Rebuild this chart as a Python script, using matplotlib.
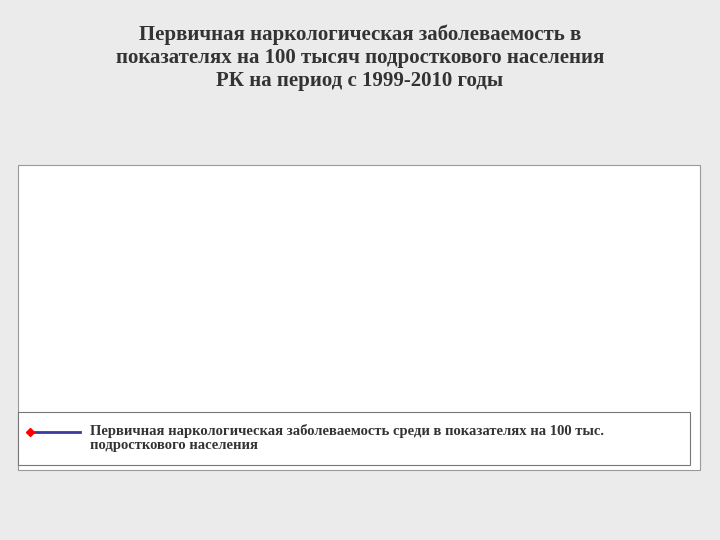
import matplotlib.pyplot as plt
from matplotlib.patches import Rectangle
from matplotlib.lines import Line2D

years = ['1999', '2000', '2001', '2002', '2003', '2004', '2005', '2006', '2007', '2008', '2009', '2010']
values = [387.1, 585.1, 605.8, 800.9, 612.9, 600.6, 822.8, 509.7, 476.3, 473.6, 564.8, 437.3]
labels = ['387,1', '585,1', '605,8', '800,9', '612,9', '600,6', '822,8', '509,7', '476,3', '473,6', '564,8', '437,3']
ytick_labels = ['0', '100', '200', '200', '300', '400', '500', '600', '700', '800', '900']

fig = plt.figure(figsize=(7.2, 5.4), dpi=100)
fig.patch.set_facecolor('#ebebeb')

# white chart box
fig.patches.append(Rectangle((18 / 720, 1 - 470 / 540), 682 / 720, 305 / 540,
                             transform=fig.transFigure, facecolor='white',
                             edgecolor='#999999', lw=0.8))

fig.text(0.5, 0.955, 'Первичная наркологическая заболеваемость в\n'
         'показателях на 100 тысяч подросткового населения\n'
         'РК на период с 1999-2010 годы',
         ha='center', va='top', fontsize=15, fontweight='bold',
         family='Liberation Serif', color='#333333', linespacing=1.2)

ax = fig.add_axes([85 / 720, 1 - 343 / 540, 595 / 720, 153 / 540])
x = range(len(years))
ax.plot(x, values, color='#3a3aa0', lw=2.2, marker='D', ms=4,
        markerfacecolor='red', markeredgecolor='red')
ax.set_xlim(-0.5, 11.5)
ax.set_ylim(0, 900)
ax.set_yticks([i * 90 for i in range(len(ytick_labels))])
ax.set_yticklabels(ytick_labels, fontsize=12, fontweight='bold')
ax.set_xticks(list(x))
ax.set_xticklabels(years, rotation=45, fontsize=13, fontweight='bold', ha='center')
ax.tick_params(axis='both', length=0, pad=3)
ax.tick_params(axis='x', pad=8)
for s in ['top', 'right']:
    ax.spines[s].set_visible(False)
for s in ['left', 'bottom']:
    ax.spines[s].set_color('#bbbbbb')

for i, (v, t) in enumerate(zip(values, labels)):
    ax.text(i, v + 25, t, ha='center', va='bottom', fontsize=12, fontweight='bold')

fig.patches.append(Rectangle((18 / 720, 1 - 465 / 540), 672 / 720, 53 / 540,
                             transform=fig.transFigure, facecolor='white',
                             edgecolor='#777777', lw=0.8))
fig.lines.append(Line2D([30 / 720, 80 / 720], [1 - 432 / 540] * 2, transform=fig.transFigure,
                        color='#3a3aa0', lw=2, marker='D', ms=4,
                        markerfacecolor='red', markeredgecolor='red', markevery=[0]))
fig.text(90 / 720, 1 - 438 / 540,
         'Первичная наркологическая заболеваемость среди в показателях на 100 тыс.\n'
         'подросткового населения', ha='left', va='center', fontsize=10.5,
         fontweight='bold', family='Liberation Serif', color='#333333')

fig.savefig('out.png', dpi=100, facecolor=fig.get_facecolor())
